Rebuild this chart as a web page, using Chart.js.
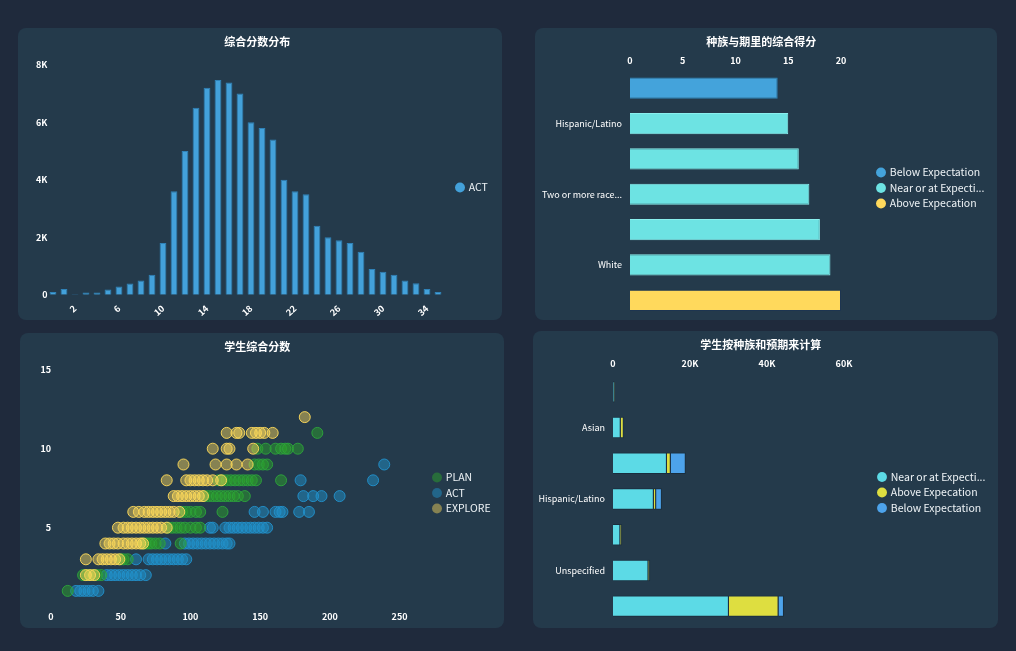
<!DOCTYPE html>
<html>
<head>
<meta charset="utf-8">
<script src="https://cdn.jsdelivr.net/npm/chart.js@4.4.0/dist/chart.umd.min.js"></script>
<style>
html, body { margin: 0; padding: 0; background: #1f2a3c; width: 1016px; height: 651px; overflow: hidden; }
.panel { position: absolute; background: #243a4b; border-radius: 8px; }
</style>
</head>
<body>
<div class="panel" style="left:18px;top:28px;width:484px;height:292px"><canvas id="histChart"></canvas></div>
<div class="panel" style="left:535px;top:28px;width:462px;height:292px"><canvas id="raceChart"></canvas></div>
<div class="panel" style="left:20px;top:333px;width:484px;height:295px"><canvas id="scatterChart"></canvas></div>
<div class="panel" style="left:533px;top:331px;width:465px;height:297px"><canvas id="countChart"></canvas></div>
<script>
// 综合分数分布
const scoreLabels = ['0','1','2','3','4','5','6','7','8','9','10','11','12','13','14','15','16','17',
  '18','19','20','21','22','23','24','25','26','27','28','29','30','31','32','33','34','35'];
const actCounts = [100, 200, 20, 80, 80, 190, 290, 395, 500, 700, 1800, 3600, 5000, 6500, 7200, 7470, 7380, 7000,
  6000, 5800, 5400, 4000, 3600, 3500, 2400, 2000, 1900, 1800, 1500, 900, 800, 700, 500, 400, 200, 100];

// 种族与期里的综合得分
const raceLabels = ['Black/African American', 'Hispanic/Latino', 'American Indian/Alaska Native',
  'Two or more races', 'Asian', 'White', 'Native Hawaiian/Pacific Islander'];
const belowScore = [14, null, null, null, null, null, null];
const nearScore = [null, 15, 16, 17, 18, 19, null];
const aboveScore = [null, null, null, null, null, null, 20];

// 学生综合分数 [x, y]
const planPoints = [[12,1],
  [23,2],[26,2],[30,2],[33,2],[36,2],
  [50,3],[52,3],[55,3],
  [66,4],[68,4],[70,4],[72,4],[75,4],[78,4],[93,4],
  [84,5],[87,5],[90,5],[93,5],[96,5],[100,5],[104,5],[107,5],
  [94,6],[97,6],[100,6],[104,6],[107,6],[123,6],
  [110,7],[113,7],[116,7],[119,7],[122,7],[125,7],[128,7],[131,7],[134,7],[139,7],
  [120,8],[123,8],[126,8],[129,8],[132,8],[135,8],[138,8],[141,8],[144,8],[147,8],[165,8],
  [146,9],[149,9],[152,9],[155,9],
  [148,10],[154,10],[161,10],[165,10],[168,10],[170,10],[177,10],
  [191,11]];
const actPoints = [[18,1],[21,1],[24,1],[27,1],[30,1],[34,1],
  [40,2],[43,2],[46,2],[49,2],[52,2],[55,2],[58,2],[61,2],[64,2],[68,2],
  [61,3],[70,3],[73,3],[76,3],[79,3],[82,3],[85,3],[88,3],[91,3],[94,3],[97,3],
  [82,4],[96,4],[99,4],[102,4],[105,4],[108,4],[111,4],[114,4],[117,4],[120,4],[123,4],[126,4],[128,4],
  [114,5],[116,5],[125,5],[128,5],[131,5],[134,5],[137,5],[140,5],[143,5],[146,5],[149,5],[152,5],[155,5],
  [146,6],[152,6],[161,6],[164,6],[166,6],[178,6],[185,6],
  [181,7],[188,7],[194,7],[207,7],
  [179,8],[231,8],
  [239,9]];
const explorePoints = [[25,2],[28,2],[31,2],
  [25,3],[34,3],[37,3],[40,3],[43,3],[46,3],[49,3],
  [39,4],[42,4],[45,4],[48,4],[52,4],[55,4],[58,4],[61,4],[64,4],[66,4],
  [48,5],[52,5],[55,5],[58,5],[61,5],[64,5],[67,5],[70,5],[73,5],[76,5],[79,5],[83,5],
  [59,6],[63,6],[67,6],[70,6],[73,6],[76,6],[79,6],[82,6],[85,6],[88,6],[92,6],
  [88,7],[91,7],[94,7],[97,7],[100,7],[103,7],[106,7],[109,7],
  [83,8],[97,8],[100,8],[103,8],[106,8],[109,8],[112,8],[116,8],[122,8],
  [95,9],[118,9],[126,9],[133,9],[141,9],
  [116,10],[126,10],[128,10],[145,10],
  [126,11],[133,11],[135,11],[144,11],[147,11],[150,11],[153,11],[159,11],
  [182,12]];

// 学生按种族和预期来计算
const groupLabels = ['American Indian/Alaska Native', 'Asian', 'Black/African American', 'Hispanic/Latino',
  'Two or more races', 'Unspecified', 'White'];
const nearCount = [250, 2000, 14000, 10600, 1900, 9200, 30100];
const aboveCount = [150, 800, 1000, 600, 400, 350, 12900];
const belowCount = [30, 100, 3900, 1500, 50, 80, 1400];

Chart.defaults.font.family = "'Noto Sans CJK SC', 'Noto Sans', sans-serif";
Chart.defaults.color = '#ffffff';
Chart.defaults.animation = false;

function cut(text, n) {
    return text.length > n ? text.slice(0, n) + '...' : text;
}

function titleOpts(text, bottom) {
    return {
        display: true,
        text: text,
        color: '#ffffff',
        font: { size: 11, weight: 'bold' },
        padding: { top: 7.5, bottom: bottom }
    };
}

// blank legend title only pushes the items down
function legendOpts(maxWidth, push) {
    return {
        position: 'right',
        maxWidth: maxWidth,
        title: { display: true, text: ' ', font: { size: 10 }, padding: { top: push - 12, bottom: 0 } },
        labels: {
            usePointStyle: true,
            boxWidth: 7,
            boxHeight: 7,
            padding: 5,
            color: '#eef3f6',
            font: { size: 10.5 },
            generateLabels: chart => {
                const items = Chart.defaults.plugins.legend.labels.generateLabels(chart);
                items.forEach(it => { it.text = cut(it.text, 18); it.lineWidth = 0; });
                return items.sort((a, b) => a.datasetIndex - b.datasetIndex);
            }
        }
    };
}

// empty axis that keeps a gap between the plot and the legend
function spacer(w) {
    return {
        position: 'right', display: true,
        grid: { display: false, drawTicks: false }, border: { display: false },
        ticks: { display: false },
        afterFit: s => { s.width = w; }
    };
}

const noGrid = { display: false, drawTicks: false };
const numFont = { size: 9, weight: 'bold' };
const catFont = { size: 9 };

new Chart(document.getElementById('histChart'), {
    type: 'bar',
    data: {
        labels: scoreLabels,
        datasets: [{
            label: 'ACT',
            data: actCounts,
            backgroundColor: '#43a1da',
            borderColor: '#2f82b8',
            borderWidth: 1,
            barPercentage: 0.62,
            categoryPercentage: 1
        }]
    },
    options: {
        responsive: true,
        maintainAspectRatio: false,
        layout: { padding: { left: 0, right: 5.5, bottom: -6 } },
        scales: {
            x: {
                grid: noGrid, border: { display: false },
                ticks: { autoSkip: false, minRotation: 42, maxRotation: 42, padding: 8, font: numFont,
                    callback: (v, i) => i % 4 === 2 ? scoreLabels[i] : '' }
            },
            y: {
                min: 0, max: 8000,
                grid: noGrid, border: { display: false },
                ticks: { stepSize: 2000, padding: 0, font: numFont,
                    callback: v => v === 0 ? '0' : (v / 1000) + 'K' },
                afterFit: s => { s.width = 29.5; }
            },
            gap: spacer(8)
        },
        plugins: { title: titleOpts('综合分数分布', 16), legend: legendOpts(45, 21), tooltip: { enabled: false } }
    }
});

new Chart(document.getElementById('raceChart'), {
    type: 'bar',
    data: {
        labels: raceLabels,
        datasets: [
            { label: 'Below Expectation', data: belowScore, backgroundColor: '#44a3db', borderColor: '#2f86bb', borderWidth: 1 },
            { label: 'Near or at Expection', data: nearScore, backgroundColor: '#6de3e3', borderColor: '#8af0ee', borderWidth: 1 },
            { label: 'Above Expecation', data: aboveScore, backgroundColor: '#ffd95c', borderColor: '#1d3550', borderWidth: 1 }
        ]
    },
    options: {
        indexAxis: 'y',
        responsive: true,
        maintainAspectRatio: false,
        datasets: { bar: { barPercentage: 0.6, categoryPercentage: 1 } },
        layout: { padding: { left: 0, right: 9.5, bottom: 2 } },
        scales: {
            x: {
                position: 'top', stacked: true, min: 0, max: 20,
                grid: noGrid, border: { display: false },
                ticks: { stepSize: 5, padding: 5, font: numFont }
            },
            y: {
                stacked: true,
                grid: { display: false, drawTicks: true, tickLength: 8 }, border: { display: false },
                ticks: { autoSkip: false, padding: 0, font: catFont,
                    callback: (v, i) => i % 2 === 1 ? cut(raceLabels[i], 16) : '' },
                afterFit: s => { s.width = 95; s.paddingTop = 0; s.paddingBottom = 0; }
            },
            gap: spacer(31.5)
        },
        plugins: { title: titleOpts('种族与期里的综合得分', 1), legend: legendOpts(115, 30), tooltip: { enabled: false } }
    }
});

new Chart(document.getElementById('scatterChart'), {
    type: 'scatter',
    data: {
        datasets: [
            { label: 'PLAN', data: planPoints.map(p => ({ x: p[0], y: p[1] })),
              backgroundColor: 'rgba(44,160,44,0.5)', borderColor: 'rgba(46,165,60,0.9)', order: 1 },
            { label: 'ACT', data: actPoints.map(p => ({ x: p[0], y: p[1] })),
              backgroundColor: 'rgba(31,144,200,0.5)', borderColor: 'rgba(34,146,205,0.9)', order: 2 },
            { label: 'EXPLORE', data: explorePoints.map(p => ({ x: p[0], y: p[1] })),
              backgroundColor: 'rgba(255,219,92,0.45)', borderColor: 'rgba(250,215,90,0.95)', order: 0 }
        ]
    },
    options: {
        responsive: true,
        maintainAspectRatio: false,
        elements: { point: { radius: 5.5, borderWidth: 1 } },
        layout: { padding: { left: 0, right: 9.5, bottom: 2.5 } },
        scales: {
            x: {
                min: 0, max: 265,
                grid: noGrid, border: { display: false },
                ticks: { stepSize: 50, includeBounds: false, padding: 4, font: numFont,
                    callback: v => v % 50 === 0 ? v : '' }
            },
            y: {
                min: 0, max: 15,
                grid: noGrid, border: { display: false },
                ticks: { stepSize: 5, padding: 0, font: numFont, callback: v => v === 0 ? '' : v },
                afterFit: s => { s.width = 31; }
            },
            gap: spacer(8)
        },
        plugins: { title: titleOpts('学生综合分数', 16), legend: legendOpts(66, 27.5), tooltip: { enabled: false } }
    }
});

new Chart(document.getElementById('countChart'), {
    type: 'bar',
    data: {
        labels: groupLabels,
        datasets: [
            { label: 'Near or at Expection', data: nearCount, backgroundColor: '#5cdae6' },
            { label: 'Above Expecation', data: aboveCount, backgroundColor: '#dede40' },
            { label: 'Below Expectation', data: belowCount, backgroundColor: '#4da3eb' }
        ]
    },
    options: {
        indexAxis: 'y',
        responsive: true,
        maintainAspectRatio: false,
        datasets: { bar: { barPercentage: 0.6, categoryPercentage: 1, borderWidth: 1, borderColor: 'rgba(22,42,58,0.8)' } },
        layout: { padding: { left: 0, right: 9.5, bottom: 4 } },
        scales: {
            x: {
                position: 'top', stacked: true, min: 0, max: 60000,
                grid: noGrid, border: { display: false },
                ticks: { stepSize: 20000, padding: 5, font: numFont,
                    callback: v => v === 0 ? '0' : (v / 1000) + 'K' }
            },
            y: {
                stacked: true,
                grid: { display: false, drawTicks: true, tickLength: 8 }, border: { display: false },
                ticks: { autoSkip: false, padding: 0, font: catFont,
                    callback: (v, i) => i % 2 === 1 ? cut(groupLabels[i], 16) : '' },
                afterFit: s => { s.width = 80; s.paddingTop = 0; s.paddingBottom = 0; }
            },
            gap: spacer(29.5)
        },
        plugins: { title: titleOpts('学生按种族和预期来计算', 1.5), legend: legendOpts(115, 30), tooltip: { enabled: false } }
    }
});
</script>
</body>
</html>
